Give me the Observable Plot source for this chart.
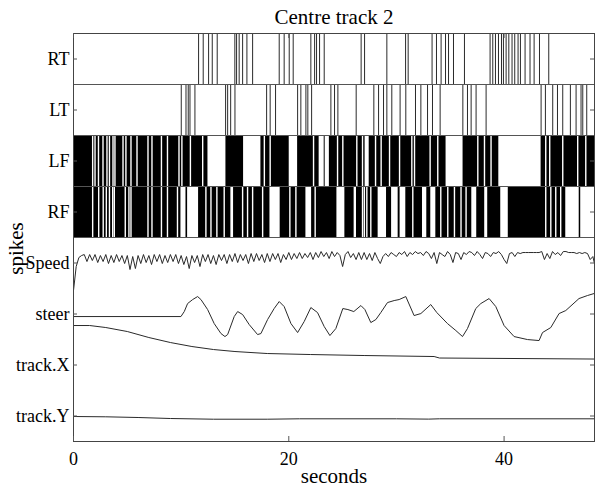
<!DOCTYPE html>
<html><head><meta charset="utf-8">
<script src="https://cdn.jsdelivr.net/npm/d3@7"></script>
<script src="https://cdn.jsdelivr.net/npm/@observablehq/plot@0.6"></script>
<style>body{margin:0;background:#fff;}</style>
</head><body><div id="chart"></div>
<script>
const title = "Centre track 2";
const xLabel = "seconds";
const yLabel = "spikes";
// row labels, bottom to top
const rowLabels = ["track.Y", "track.X", "steer", "Speed", "RF", "LF", "LT", "RT"];
const xTicks = [0, 20, 40];
const tMax = 48.4;

// spike times (s)
const RT = [11.62, 12.05, 12.55, 12.89, 13.35, 14.99, 15.15, 15.39, 15.71, 16.11, 16.64, 19.11, 19.57, 20.04, 20.41, 22.05, 22.40, 22.58, 22.86, 23.29, 26.72, 27.04, 29.11, 30.85, 31.09, 33.31, 33.72, 34.15, 34.56, 34.84, 35.30, 36.32, 38.70, 38.95, 39.20, 39.48, 39.76, 39.94, 40.19, 40.44, 40.74, 40.99, 41.30, 41.52, 41.95, 42.41, 42.79, 43.29, 44.15];
const LT = [10.01, 10.45, 10.66, 10.82, 11.28, 14.13, 14.32, 14.60, 15.00, 17.94, 18.27, 18.77, 20.82, 21.12, 21.59, 21.77, 22.12, 23.91, 24.25, 24.56, 26.26, 27.90, 28.34, 28.80, 29.11, 29.57, 30.34, 30.87, 31.77, 32.27, 32.89, 33.35, 34.06, 36.17, 36.60, 36.94, 37.40, 38.33, 43.44, 43.84, 44.52, 44.96, 45.45, 46.16, 46.69, 47.15, 47.31, 47.68];

// dense rows: bursts of continuous firing [start, end] and short silent gaps inside them
const LFbursts = [[0, 12.49], [14.16, 15.80], [17.41, 20.04], [20.82, 22.82], [23.29, 23.38], [23.77, 27.09], [27.47, 34.61], [36.19, 39.51], [43.44, 48.4]];
const LFgaps = [1.78, 2.0, 2.32, 2.74, 3.11, 3.34, 3.67, 3.85, 4.6, 4.87, 5.34, 5.9, 6.92, 7.29, 8.17, 8.73, 9.8, 10.07, 10.86, 12.0, 17.73, 18.27, 22.3, 24.53, 25.02, 26.32, 26.85, 28.06, 28.58, 29.36, 30.29, 31.43, 31.68, 33.13, 33.84, 37.56, 38.18, 38.79, 43.87, 44.24, 45.45, 46.84, 47.59];
const RFbursts = [[0, 9.98], [10.45, 10.6], [11.62, 14.62], [14.87, 18.25], [19.2, 21.59], [22.12, 24.47], [25.21, 26.07], [26.29, 28.30], [29.08, 29.55], [30.16, 30.34], [30.87, 32.42], [32.82, 33.19], [33.66, 37.0], [37.46, 38.2], [38.48, 39.69], [40.39, 45.73], [46.98, 47.12]];
const RFgaps = [1.78, 2.34, 2.76, 3.05, 3.34, 3.64, 3.79, 4.81, 5.15, 5.34, 6.92, 7.29, 8.17, 8.73, 9.66, 12.3, 12.77, 13.32, 14.0, 15.71, 16.17, 16.64, 17.57, 20.1, 20.66, 22.45, 26.85, 27.02, 27.25, 27.62, 31.52, 34.12, 34.77, 35.39, 36.0, 36.47, 43.87, 44.34, 44.8, 45.26];

// Speed sampled every 0.25 s
const speedStep = 0.25;
const speed = [
 0, 24, 33, 35,  36, 29, 36, 30,  36, 28, 35, 29,  36, 27, 35, 28,  36, 29, 35, 27,
 35, 21, 34, 22,  35, 27, 36, 28,  35, 26, 36, 29,  36, 27, 35, 28,  36, 29, 36, 27,
 35, 26, 34, 22,  35, 28, 35, 24,  36, 29, 36, 27,  35, 26, 36, 30,  36, 27, 36, 29,
 37, 28, 36, 30,  36, 27, 37, 29,  37, 30, 36, 28,  37, 29, 37, 31,  37, 28, 36, 31,
 38, 31, 37, 32,  38, 32, 37, 33,  38, 31, 38, 33,  39, 34, 38, 32,  39, 34, 38, 35,
 24, 36, 39, 33,  37, 31, 38, 31,  38, 31, 37, 30,  38, 32, 27, 34,  37, 34, 38, 36,
 34, 38, 36, 39,  34, 38, 36, 39,  37, 38, 35, 39,  37, 32, 38, 27,  38, 36, 34, 39,
 36, 28, 38, 37,  31, 38, 36, 39,  38, 35, 39, 36,  32, 38, 37, 34,  38, 37, 39, 36,
 31, 27, 37, 38,  34, 38, 37, 38,  38, 38, 38, 38,  38, 38, 39, 31,  37, 32, 39, 36,
 38, 35, 39, 39,  38, 38, 38, 37,  38, 37, 38, 37,  31, 34, 22
];
// steering [t, value]
const steer = [[0, 0], [9.98, 0], [10.29, 5], [10.6, 13], [11.07, 17], [11.53, 20], [11.84, 17], [12.46, 7], [13.07, -7], [13.7, -17], [14.07, -20], [14.32, -18], [14.93, 0], [15.25, 5], [15.71, 2], [16.32, -8], [17.1, -18], [17.41, -17], [18.03, -3], [18.64, 8], [19.11, 15], [19.57, 10], [20.2, -7], [20.82, -16], [21.43, -5], [22.05, 9], [22.67, 4], [23.29, -10], [23.82, -19], [24.37, -12], [25.02, 8], [25.49, 7], [26.04, 5], [26.7, 11], [27.07, 7], [27.62, -6], [28.09, -3], [28.55, 4], [29.17, 14], [29.79, 16], [30.25, 17], [30.87, 20], [31.64, 1], [32.27, 3], [33.19, 12], [33.75, 4], [34.74, -7], [35.52, -14], [36.14, -20], [36.6, -12], [37.37, 8], [37.84, 13], [38.61, 18], [39.23, 10], [40.0, -9], [40.93, -20], [42.17, -23], [43.25, -24], [43.57, -16], [44.34, -11], [45.11, 3], [45.73, 6], [46.96, 18], [47.74, 21], [48.36, 23]];
const trackX = [[0, 41], [1.5, 41], [3, 39], [5, 35], [7, 29], [9, 24], [11, 20], [13, 17], [15, 15], [18, 13], [22, 12], [27, 11], [33.5, 10], [34, 8.5], [48.4, 7.5]];
const trackY = [[0, 0], [3, -0.3], [6, -1], [9, -2], [13, -2.7], [18, -2.7], [21, -2.3], [30, -2.3], [33, -2.6], [34, -2.3], [48.4, -2.3]];

// layout of rows (in row units) and signal gain
const rowOf = Object.fromEntries(rowLabels.map((l, i) => [l, i]));
const gain = 1 / 51;
const base = {Speed: 2.96, steer: 2.45, "track.X": 1.47, "track.Y": 0.49};

const speedData = speed.map((v, i) => ({t: i * speedStep, v}));
const pairs = a => a.map(([t, v]) => ({t, v}));

const font = "'Liberation Serif', 'Times New Roman', 'DejaVu Serif', serif";
const ink = "#2a2a2a";
const centers = rowLabels.map((_, i) => i + 0.5);

const spikeRow = (arr, name) => Plot.ruleX(arr, {x: d => d, y1: () => rowOf[name], y2: () => rowOf[name] + 1, stroke: ink, strokeWidth: 1});
const burstRow = (arr, name) => Plot.rect(arr, {x1: d => d[0], x2: d => d[1], y1: () => rowOf[name], y2: () => rowOf[name] + 1, fill: "#000"});
const gapRow = (arr, name) => Plot.ruleX(arr, {x: d => d, y1: () => rowOf[name], y2: () => rowOf[name] + 1, stroke: "#fff", strokeWidth: 1.4});
const signal = (data, name) => Plot.line(data, {x: "t", y: d => base[name] + d.v * gain, stroke: ink, strokeWidth: 1, clip: true});

const chart = Plot.plot({
  width: 599, height: 489,
  marginLeft: 73, marginRight: 5, marginTop: 33, marginBottom: 48,
  style: {fontFamily: font, fontSize: "18px", background: "#fff", color: "#000"},
  x: {domain: [0, tMax]},
  y: {domain: [0, 8]},
  marks: [
    burstRow(LFbursts, "LF"), gapRow(LFgaps, "LF"),
    burstRow(RFbursts, "RF"), gapRow(RFgaps, "RF"),
    spikeRow(RT, "RT"), spikeRow(LT, "LT"),
    signal(speedData, "Speed"),
    signal(pairs(steer), "steer"),
    signal(pairs(trackX), "track.X"),
    signal(pairs(trackY), "track.Y"),
    Plot.ruleY([4, 5, 6, 7], {stroke: "#555"}),
    Plot.frame({stroke: "#444"}),
    // inward ticks
    Plot.ruleY(centers, {y: d => d, x1: () => 0, x2: () => 0, insetRight: -4, stroke: "#555"}),
    Plot.ruleY(centers, {y: d => d, x1: () => tMax, x2: () => tMax, insetLeft: -4, stroke: "#555"}),
    Plot.ruleX(xTicks, {x: d => d, y1: () => 0, y2: () => 0, insetTop: -5, stroke: "#555"}),
    Plot.ruleX(xTicks, {x: d => d, y1: () => 8, y2: () => 8, insetBottom: -5, stroke: "#555"}),
    Plot.axisY({ticks: centers, tickFormat: d => rowLabels[Math.floor(d)], tickSize: 0, tickPadding: 4, label: null}),
    Plot.axisX({ticks: xTicks, tickFormat: d => String(d), tickSize: 0, tickPadding: 11, label: null}),
    Plot.text([title], {text: d => d, frameAnchor: "top", dy: -16, lineAnchor: "middle", fontSize: 21}),
    Plot.text([xLabel], {text: d => d, frameAnchor: "bottom", dy: 35, lineAnchor: "middle", fontSize: 21}),
    Plot.text([yLabel], {text: d => d, frameAnchor: "left", textAnchor: "middle", dx: -57, dy: 11, rotate: -90, lineAnchor: "middle", fontSize: 21})
  ]
});
document.getElementById("chart").append(chart);
</script>
</body></html>
